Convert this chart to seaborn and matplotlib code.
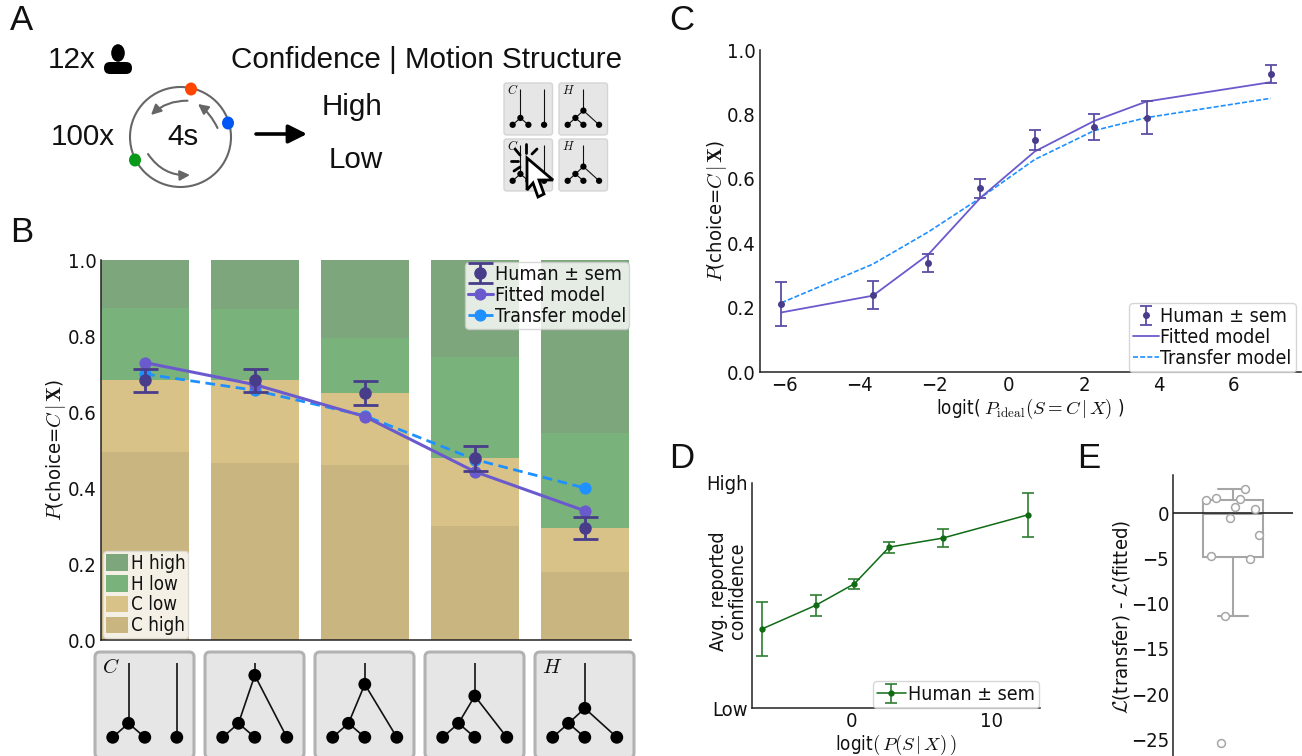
import numpy as np
import matplotlib
matplotlib.use('Agg')
import matplotlib.pyplot as plt
from matplotlib.patches import Circle, Ellipse, FancyBboxPatch
import seaborn as sns

# panel B
tree_pos = [0, 1, 2, 3, 4]
c_high_top = [0.495, 0.465, 0.46, 0.30, 0.178]
c_low_top = [0.683, 0.683, 0.65, 0.478, 0.295]
h_low_top = [0.875, 0.87, 0.795, 0.745, 0.545]
h_high_top = [1.0, 1.0, 1.0, 1.0, 1.0]
b_human = [0.683, 0.683, 0.65, 0.478, 0.295]
b_sem = [0.03, 0.03, 0.031, 0.032, 0.03]
b_fitted = [0.73, 0.672, 0.588, 0.443, 0.34]
b_transfer = [0.70, 0.657, 0.59, 0.475, 0.40]

# panel C
c_x = [-6.07, -3.63, -2.15, -0.77, 0.69, 2.28, 3.67, 6.98]
c_human = [0.21, 0.24, 0.34, 0.57, 0.72, 0.76, 0.79, 0.925]
c_sem = [0.068, 0.043, 0.028, 0.03, 0.031, 0.04, 0.052, 0.028]
c_fitted = [0.185, 0.237, 0.365, 0.54, 0.685, 0.78, 0.84, 0.90]
c_transfer = [0.215, 0.335, 0.435, 0.54, 0.66, 0.75, 0.79, 0.85]

# panel D
d_x = [-6.4, -2.6, 0.17, 2.66, 6.47, 12.54]
d_conf = [0.352, 0.456, 0.552, 0.715, 0.755, 0.858]
d_sem = [0.12, 0.047, 0.021, 0.024, 0.039, 0.097]

# panel E
e_diff = [2.6, 1.65, 1.4, 1.55, 0.66, 0.44, -0.55, -2.4, -4.78, -5.07, -11.36, -25.4]
e_jitter = [0.097, -0.144, -0.225, 0.058, 0.017, 0.18, -0.022, 0.217, -0.186, 0.139, -0.064, -0.103]

HUMAN = '#483d8b'
FITTED = '#6a5acd'
TRANSFER = '#1e90ff'
GREEN = '#0f6b14'

sns.set_style('white')
plt.rcParams['font.family'] = ['DejaVu Sans']
plt.rcParams['font.stretch'] = 'condensed'
plt.rcParams['mathtext.fontset'] = 'cm'
plt.rcParams['text.color'] = '#111111'
plt.rcParams['axes.labelcolor'] = '#111111'
plt.rcParams['axes.linewidth'] = 1.1
plt.rcParams['axes.edgecolor'] = '#222222'
plt.rcParams['xtick.direction'] = 'in'
plt.rcParams['ytick.direction'] = 'in'

W, H = 1302, 756
fig = plt.figure(figsize=(13.02, 7.56), dpi=100)


def px_axes(left, top, right, bottom):
    return fig.add_axes([left / W, 1 - bottom / H, (right - left) / W, (bottom - top) / H])


def style_axes(ax, size=14.5):
    sns.despine(ax=ax)
    ax.tick_params(labelsize=size, length=5, width=1, pad=3, colors='#111111')
    ax.patch.set_alpha(0)


# overlay for the schematic bits, in pixels
bg = fig.add_axes([0, 0, 1, 1])
bg.set_xlim(0, W)
bg.set_ylim(H, 0)
bg.axis('off')


def tree_icon(x0, y0, k=1.0, root_y=None, tag=None):
    bg.add_patch(FancyBboxPatch((x0 + 3 * k, y0 + 3 * k), 93 * k, 100 * k, boxstyle=f'round,pad={3 * k},rounding_size={5 * k}',
                                fc='#e6e6e6', ec='#b2b2b2' if k == 1 else '#d4d4d4', lw=2.2 if k == 1 else 1))
    def X(v):
        return x0 + v * k
    def Y(v):
        return y0 + v * k
    lw = 1.2 if k == 1 else 0.8
    r = 6.4 * k
    leaves = [17.7, 49.8, 81.8]
    leaf_y, par_y, top_y = 85.3, 71.3, 11.3
    nodes = [(leaves[0], leaf_y), (leaves[1], leaf_y), (leaves[2], leaf_y), (33.5, par_y)]
    segs = [((33.5, par_y), (leaves[0], leaf_y)), ((33.5, par_y), (leaves[1], leaf_y))]
    if root_y is None:
        segs += [((33.5, top_y), (33.5, par_y)), ((leaves[2], top_y), (leaves[2], leaf_y))]
    else:
        segs += [((49.8, top_y), (49.8, root_y)), ((49.8, root_y), (33.5, par_y)), ((49.8, root_y), (leaves[2], leaf_y))]
        nodes.append((49.8, root_y))
    for a, b in segs:
        bg.plot([X(a[0]), X(b[0])], [Y(a[1]), Y(b[1])], color='#111111', lw=lw, solid_capstyle='butt')
    for n in nodes:
        bg.add_patch(Circle((X(n[0]), Y(n[1])), r, fc='black', ec='none', zorder=3))
    if tag:
        bg.text(X(7), Y(15), f'${tag}$', fontsize=15 if k == 1 else 9, ha='left', va='center', color='#111111')


for x0, ry, tag in [(95, None, 'C'), (205, 23.3, None), (315, 32.3, None), (425, 44, None), (535, 56.3, 'H')]:
    tree_icon(x0, 652, 1.0, ry, tag)

for x0, y0, ry, tag in [(504, 83, None, 'C'), (559, 83, 56.3, 'H'), (504, 139, None, 'C'), (559, 139, 56.3, 'H')]:
    tree_icon(x0, y0, 0.49, ry, tag)

# click cursor on the lower left icon
bg.fill([527, 527, 533, 538, 544, 539, 553], [158, 190, 183, 197, 194, 180, 180], fc='white', ec='black', lw=2, zorder=5)
for a, b in [((526, 153), (526, 144)), ((520, 155), (515, 149)), ((518, 161), (511, 161)), ((532, 154), (537, 149)),
             ((520, 167), (514, 171))]:
    bg.plot([a[0], b[0]], [a[1], b[1]], color='black', lw=2, zorder=5)

# panel A
sans = ['Liberation Sans']
for s, x, y in [('A', 10, 21), ('B', 10, 233), ('C', 669, 21), ('D', 669, 458), ('E', 1077, 458)]:
    bg.text(x, y, s, fontsize=25, family=sans, ha='left', va='center', color='#111111')
bg.text(48, 60, '12x', fontsize=21.3, family=sans, va='center')
bg.text(51, 137, '100x', fontsize=21.3, family=sans, va='center')
bg.text(167, 137, '4s', fontsize=21.3, family=sans, va='center')
bg.text(231, 60, 'Confidence | Motion Structure', fontsize=21.3, family=sans, va='center')
bg.text(322, 107, 'High', fontsize=21.3, family=sans, va='center')
bg.text(329, 160, 'Low', fontsize=21.3, family=sans, va='center')
bg.add_patch(Ellipse((118, 53), 15, 19, fc='black'))
bg.add_patch(FancyBboxPatch((109, 67), 18, 2, boxstyle='round,pad=5,rounding_size=6', fc='black', ec='none'))
bg.add_patch(Ellipse((180.5, 137), 101, 100, fc='none', ec='#666666', lw=1.5))
for cx, cy, col in [(191, 89, '#ff4500'), (228, 123, '#0055f5'), (135, 160, '#0a9a1a')]:
    bg.add_patch(Ellipse((cx, cy), 12, 13, fc=col, ec='none', zorder=3))
for a, b, rad in [((217.5, 128), (198, 104), 0.12), ((187.5, 100.7), (151, 115), 0.2), ((148, 154), (190, 175), 0.28)]:
    bg.annotate('', xy=b, xytext=a, arrowprops=dict(arrowstyle='-|>', color='#666666', lw=1.5, mutation_scale=15,
                                                     connectionstyle=f'arc3,rad={rad}', shrinkA=0, shrinkB=0))
bg.annotate('', xy=(307, 134), xytext=(256, 134), arrowprops=dict(arrowstyle='-|>', color='black', lw=2.6, mutation_scale=28,
                                                                  shrinkA=0, shrinkB=0))

# panel B
ax = px_axes(101, 260, 631, 640)
for tops, col, lab in [(h_high_top, '#7ea67c', 'H high'), (h_low_top, '#7ab27b', 'H low'),
                       (c_low_top, '#d8c287', 'C low'), (c_high_top, '#c9b580', 'C high')]:
    sns.barplot(x=tree_pos, y=tops, color=col, saturation=1, width=0.8, linewidth=0, label=lab, ax=ax, legend=False)
bar_h, bar_l = ax.get_legend_handles_labels()
sns.lineplot(x=tree_pos, y=b_transfer, color=TRANSFER, lw=2, ls=(0, (3.5, 2)), marker='o', ms=8, mec=TRANSFER, label='Transfer model', ax=ax, zorder=4)
sns.lineplot(x=tree_pos, y=b_fitted, color=FITTED, lw=2.2, marker='o', ms=8, mec=FITTED, label='Fitted model', ax=ax, zorder=5)
ax.errorbar(tree_pos, b_human, yerr=b_sem, fmt='o', color=HUMAN, ms=8, elinewidth=2, capsize=9, capthick=2, label='Human ± sem', zorder=6)
ax.set_xlim(-0.4, 4.42)
ax.set_ylim(0, 1)
ax.set_xticks([])
ax.set_yticks([0, 0.2, 0.4, 0.6, 0.8, 1.0])
ax.set_xlabel('')
ax.set_ylabel(r'$P$(choice=$C\,|\,\mathbf{X}$)', fontsize=14.5)
ax.yaxis.set_label_coords(-0.063, 0.5)
style_axes(ax)
h, l = ax.get_legend_handles_labels()
by = dict(zip(l, h))
leg1 = ax.legend([by['Human ± sem'], by['Fitted model'], by['Transfer model']], ['Human ± sem', 'Fitted model', 'Transfer model'],
                 loc='upper right', bbox_to_anchor=(1.0, 1.0), borderaxespad=0.1, fontsize=14, frameon=True, framealpha=0.8,
                 facecolor='white', edgecolor='#cccccc', handlelength=1.3, handletextpad=0.1, labelspacing=0.1, borderpad=0.15)
leg1.set_zorder(10)
ax.add_artist(leg1)
leg2 = ax.legend(bar_h, bar_l, loc='lower left', bbox_to_anchor=(0, 0), borderaxespad=0.1, fontsize=13.5, frameon=True, framealpha=0.8,
                 facecolor='white', edgecolor='#dddddd', handlelength=1.2, handleheight=1.0, handletextpad=0.15, labelspacing=0.1, borderpad=0.15)
leg2.set_zorder(10)

# panel C
ax = px_axes(760, 50, 1301, 372)
sns.lineplot(x=c_x, y=c_transfer, color=TRANSFER, lw=1.2, ls=(0, (3, 1.3)), label='Transfer model', ax=ax)
sns.lineplot(x=c_x, y=c_fitted, color=FITTED, lw=1.3, label='Fitted model', ax=ax)
ax.errorbar(c_x, c_human, yerr=c_sem, fmt='o', color=HUMAN, ecolor='#5b4ea6', ms=4, elinewidth=1.3, capsize=4, capthick=1.3, label='Human ± sem')
ax.set_xlim(-6.64, 7.79)
ax.set_ylim(0, 1)
ax.set_xticks([-6, -4, -2, 0, 2, 4, 6])
ax.set_yticks([0, 0.2, 0.4, 0.6, 0.8, 1.0])
ax.set_xlabel(r'logit( $P_{\mathrm{ideal}}(S=C\,|\,X)$ )', fontsize=13.5, labelpad=1)
ax.set_ylabel(r'$P$(choice=$C\,|\,\mathbf{X}$)', fontsize=14.5)
ax.yaxis.set_label_coords(-0.057, 0.5)
style_axes(ax)
h, l = ax.get_legend_handles_labels()
by = dict(zip(l, h))
ax.legend([by['Human ± sem'], by['Fitted model'], by['Transfer model']], ['Human ± sem', 'Fitted model', 'Transfer model'],
          loc='lower right', bbox_to_anchor=(0.99, 0), borderaxespad=0, fontsize=14, frameon=True, framealpha=0.8,
          facecolor='white', edgecolor='#cccccc', handlelength=1.3, handletextpad=0.1, labelspacing=0.1, borderpad=0.2)

# panel D
ax = px_axes(752, 483, 1040, 708)
ax.errorbar(d_x, d_conf, yerr=d_sem, fmt='o-', color=GREEN, ecolor='#2f7d33', ms=3.5, lw=1.1, elinewidth=1.2, capsize=4, capthick=1.2, label='Human ± sem')
ax.set_xlim(-7.14, 13.43)
ax.set_ylim(0, 1)
ax.set_xticks([0, 10])
ax.set_yticks([0, 1])
ax.set_yticklabels(['Low', 'High'])
ax.set_xlabel(r'logit$(\,P(S\,|\,X)\,)$', fontsize=13.5, labelpad=1)
ax.set_ylabel('Avg. reported\nconfidence', fontsize=14, linespacing=1.0)
ax.yaxis.set_label_coords(-0.019, 0.52)
style_axes(ax)
ax.legend(loc='lower right', bbox_to_anchor=(0.995, 0), borderaxespad=0, fontsize=14, frameon=True, framealpha=0.8,
          facecolor='white', edgecolor='#cccccc', handlelength=1.5, handletextpad=0.1, borderpad=0.2)

# panel E
ax = px_axes(1173, 475, 1293, 756)
gray = '#a6a6a6'
sns.boxplot(y=e_diff, width=0.5, showfliers=False, color='white', linecolor=gray, linewidth=1.5, ax=ax, zorder=2)
ax.axhline(0, color='#222222', lw=1.2, zorder=3)
sns.scatterplot(x=e_jitter, y=e_diff, s=32, facecolor='white', edgecolor=gray, linewidth=1.1, ax=ax, zorder=4, legend=False)
ax.set_xlim(-0.5, 0.5)
ax.set_ylim(-26.85, 4.2)
ax.set_xticks([])
ax.set_yticks([-25, -20, -15, -10, -5, 0])
ax.set_ylabel(r'$\mathcal{L}$(transfer) - $\mathcal{L}$(fitted)', fontsize=14.5)
ax.yaxis.set_label_coords(-0.34, 0.495)
style_axes(ax)
ax.spines['bottom'].set_visible(False)

fig.savefig('out.png', dpi=100)
